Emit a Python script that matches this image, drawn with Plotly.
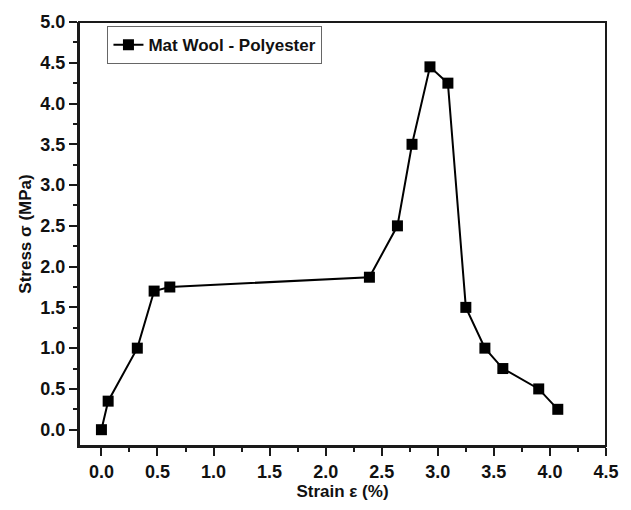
import plotly.graph_objects as go

strain = [0.0, 0.06, 0.32, 0.47, 0.61, 2.39, 2.64, 2.77, 2.93, 3.09, 3.25, 3.42, 3.58, 3.90, 4.07]
stress = [0.0, 0.35, 1.0, 1.70, 1.75, 1.87, 2.50, 3.50, 4.45, 4.25, 1.50, 1.0, 0.75, 0.50, 0.25]
series_name = "Mat Wool - Polyester"
x_ticks = [0.0, 0.5, 1.0, 1.5, 2.0, 2.5, 3.0, 3.5, 4.0, 4.5]
y_ticks = [0.0, 0.5, 1.0, 1.5, 2.0, 2.5, 3.0, 3.5, 4.0, 4.5, 5.0]

FONT = "Liberation Sans, Arial, sans-serif"

fig = go.Figure()
fig.add_trace(go.Scatter(
    x=strain, y=stress, mode="lines+markers", name=f"<b>{series_name}</b>",
    line=dict(color="black", width=2),
    marker=dict(symbol="square", size=11, color="black"),
))

axis_common = dict(
    showline=True, linecolor="#1a1a1a", linewidth=2, mirror=False,
    ticks="outside", ticklen=8, tickwidth=1.5, tickcolor="#1a1a1a",
    showgrid=False, zeroline=False,
    tickfont=dict(family=FONT, size=18, color="#111111", weight="bold"),
)

fig.update_xaxes(
    range=[-0.2, 4.5], tickvals=x_ticks,
    ticktext=[f"<b>{v:.1f}</b>" for v in x_ticks],
    minor=dict(ticks="outside", ticklen=4, tickcolor="#1a1a1a", tickwidth=1.5, dtick=0.25, tick0=0),
    title=dict(text="<b>Strain ε (%)</b>", font=dict(family=FONT, size=17, color="#111111"), standoff=5),
    **axis_common,
)
fig.update_yaxes(
    range=[-0.2, 5.0], tickvals=y_ticks,
    ticktext=[f"<b>{v:.1f}</b>" for v in y_ticks],
    minor=dict(ticks="outside", ticklen=4, tickcolor="#1a1a1a", tickwidth=1.5, dtick=0.25, tick0=0),
    title=dict(text="<b>Stress σ (MPa)</b>", font=dict(family=FONT, size=17, color="#111111"), standoff=4),
    **axis_common,
)

fig.add_shape(type="rect", xref="paper", yref="paper", x0=0, y0=0, x1=1, y1=1,
              line=dict(color="#1a1a1a", width=2), layer="above")

fig.update_layout(
    width=631, height=510,
    margin=dict(l=79, r=16, t=17, b=61),
    paper_bgcolor="white", plot_bgcolor="white",
    showlegend=True,
    legend=dict(
        x=0.054, y=0.99, xanchor="left", yanchor="top",
        bgcolor="white", bordercolor="#666666", borderwidth=1,
        font=dict(family=FONT, size=17, color="#111111"),
        itemwidth=30, tracegroupgap=0,
    ),
)

fig.write_html("out.html")
